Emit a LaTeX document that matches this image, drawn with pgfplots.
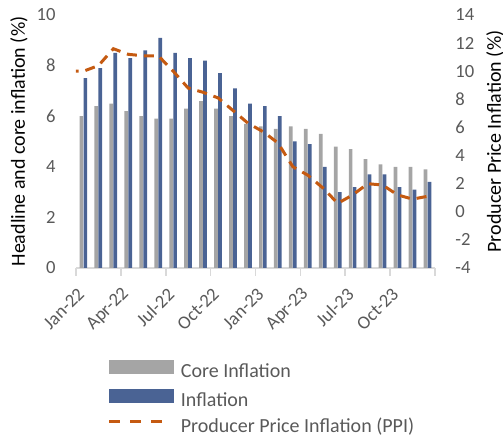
\documentclass[border=0pt]{standalone}
\usepackage{fontspec}
\setmainfont{Carlito}
\usepackage{pgfplots}
\usepackage{pgfplotstable}
\pgfplotsset{compat=1.18}
\definecolor{cgray}{HTML}{A5A5A5}
\definecolor{cblue}{HTML}{4A6394}
\definecolor{corange}{HTML}{C55A11}
\definecolor{ctext}{HTML}{595959}
\definecolor{caxis}{HTML}{D9D9D9}

\pgfplotstableread{
i core infl
0 6.0 7.5
1 6.4 7.9
2 6.5 8.5
3 6.2 8.3
4 6.0 8.6
5 5.9 9.1
6 5.9 8.5
7 6.3 8.3
8 6.6 8.2
9 6.3 7.7
10 6.0 7.1
11 5.7 6.5
12 5.6 6.4
13 5.5 6.0
14 5.6 5.0
15 5.5 4.9
16 5.3 4.0
17 4.8 3.0
18 4.7 3.2
19 4.3 3.7
20 4.1 3.7
21 4.0 3.2
22 4.0 3.1
23 3.9 3.4
}\bars

\pgfplotstableread{
i ppi
-1 10.0
0 10.0
1 10.4
2 11.6
3 11.2
4 11.1
5 11.1
6 10.0
7 8.8
8 8.5
9 8.1
10 7.2
11 6.3
12 5.7
13 4.9
14 3.2
15 2.6
16 1.7
17 0.6
18 1.2
19 2.0
20 1.9
21 1.2
22 0.9
23 1.1
}\ppi

\pgfplotsset{
  common/.style={
    width=179.5pt, height=126.5pt, scale only axis,
    at={(0,0)}, anchor=south west,
    xmin=-0.5, xmax=23.5,
    tick label style={font=\fontsize{9.3}{11}\selectfont, text=ctext},
    /pgf/number format/assume math mode=true,
    label style={font=\fontsize{10}{12}\selectfont, text=ctext},
  },
}

\begin{document}
\begin{tikzpicture}
\begin{axis}[common,
  ymin=0, ymax=10, ytick={0,2,...,10},
  axis x line*=bottom, axis y line*=left,
  y axis line style={draw=none},
  x axis line style={caxis, line width=0.8pt},
  xtick={0,3,...,21},
  xticklabels={Jan-22,Apr-22,Jul-22,Oct-22,Jan-23,Apr-23,Jul-23,Oct-23},
  minor xtick={-0.5,2.5,...,23.5},
  major tick length=0pt, minor tick length=4pt,
  xtick align=outside,
  every minor tick/.style={caxis, line width=0.8pt},
  yticklabel style={inner sep=0pt, xshift=-10pt},
  xticklabel style={yshift=-11.5pt, xshift=-1pt, rotate=45, anchor=east, inner sep=0pt},
  every axis y label/.style={at={(axis description cs:-0.159,0.5)}, rotate=90, anchor=center},
  ylabel={Headline and core inflation (\%)},
]
\addplot[ybar, bar width=1.85pt, bar shift=-1.05pt, fill=cgray, draw=none] table[x=i, y=core] {\bars};
\addplot[ybar, bar width=1.85pt, bar shift=0.95pt, fill=cblue, draw=none] table[x=i, y=infl] {\bars};
\end{axis}
\begin{axis}[common,
  ymin=-4, ymax=14, ytick={-4,-2,...,14},
  axis x line=none, axis y line*=right,
  y axis line style={draw=none},
  major tick length=0pt,
  yticklabel style={inner sep=0pt, xshift=10pt},
  every axis y label/.style={at={(axis description cs:1.167,0.5)}, rotate=90, anchor=center},
  ylabel={Producer Price Inflation (\%)},
  legend style={draw=none, fill=none, inner sep=0pt, outer sep=0pt,
    at={(axis description cs:0.0891,-0.3628)}, anchor=north west,
    font=\fontsize{10}{12}\selectfont, text=ctext,
    row sep=3.4pt, column sep=3.5pt,
    nodes={inner sep=0pt, text height=7pt, text depth=2.5pt}},
  legend cell align=left,
]
\addlegendimage{legend image code/.code={\fill[cgray] (0pt,0pt) rectangle (32pt,6.4pt);}}
\addlegendentry{Core Inflation}
\addlegendimage{legend image code/.code={\fill[cblue] (0pt,0pt) rectangle (32pt,6.4pt);}}
\addlegendentry{Inflation}
\addlegendimage{legend image code/.code={\draw[corange, line width=1.5pt, dash pattern=on 5.5pt off 5pt] (0pt,3.2pt) -- (27.5pt,3.2pt);}}
\addlegendentry{Producer Price Inflation (PPI)}
\addplot[corange, line width=1.5pt, dash pattern=on 5pt off 3.5pt, forget plot] table[x=i, y=ppi] {\ppi};
\end{axis}
\pgfresetboundingbox
\path (-38pt,-85pt) rectangle (213.5pt,134pt);
\end{tikzpicture}
\end{document}
